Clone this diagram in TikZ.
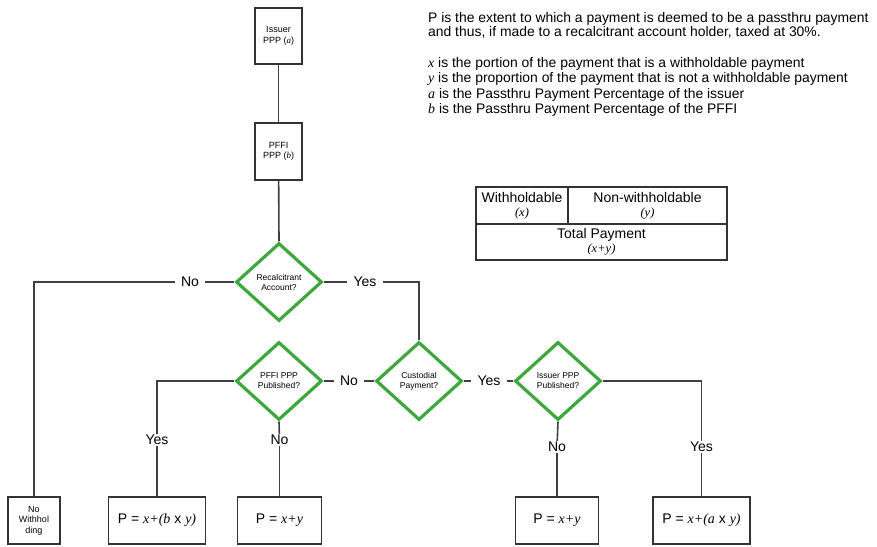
\documentclass[tikz,border=0pt]{standalone}
\usepackage{fontspec}
\setmainfont{Liberation Sans}
\newfontfamily\tms{Liberation Serif}
\usetikzlibrary{shapes.geometric}
\newcommand{\vi}[1]{{\tms\itshape #1}}
\definecolor{dgreen}{RGB}{62,168,62}
\begin{document}
\begin{tikzpicture}[x=1pt,y=-1pt,
  box/.style={draw=black!80, line width=1.5pt, fill=white, align=center, inner sep=1pt},
  dec/.style={diamond, draw=dgreen, line width=3.2pt, fill=white, minimum width=86pt,
    minimum height=78pt, inner sep=0pt, align=center, font=\fontsize{8.5}{10}\selectfont},
  lbl/.style={fill=white, inner xsep=6pt, inner ysep=1pt, font=\fontsize{14}{16}\selectfont},
  conn/.style={draw=black!75, line width=1.6pt},
  cell/.style={draw=black!80, line width=1.3pt, align=center, inner sep=0pt, font=\fontsize{14}{15}\selectfont},
  small/.style={font=\fontsize{9}{10.5}\selectfont},
  big/.style={font=\fontsize{14}{16}\selectfont}]
\useasboundingbox (0,0) rectangle (877,546);

% legend
\node[anchor=north west, align=left, inner sep=0pt, font=\fontsize{13.9}{14.5}\selectfont] (leg1) at (428,12)
  {P is the extent to which a payment is deemed to be a passthru payment\\
   and thus, if made to a recalcitrant account holder, taxed at 30\%.};
\node[anchor=north west, align=left, inner sep=0pt, font=\fontsize{13.9}{15.5}\selectfont] (leg2) at (428,57)
  {\vi{x} is the portion of the payment that is a withholdable payment\\
   \vi{y} is the proportion of the payment that is not a withholdable payment\\
   \vi{a} is the Passthru Payment Percentage of the issuer\\
   \vi{b} is the Passthru Payment Percentage of the PFFI};

% table
\node[box, minimum width=251pt, minimum height=73pt] (tbl) at (601.5,223.5) {};
\node[cell, minimum width=92pt, minimum height=37pt] (wh) at (522,205.5) {Withholdable\\[-1pt]{\fontsize{12.5}{13}\selectfont\vi{(x)}}};
\node[cell, minimum width=159pt, minimum height=37pt] (nwh) at (647.5,205.5) {Non-withholdable\\[-1pt]{\fontsize{12.5}{13}\selectfont\vi{(y)}}};
\node[cell, minimum width=251pt, minimum height=36pt] (tot) at (601.5,242) {Total Payment\\[-1pt]{\fontsize{12.5}{13}\selectfont\vi{(x+y)}}};

% top boxes
\node[box, small, minimum width=47pt, minimum height=56pt] (issuer) at (278.5,36) {Issuer\\PPP (\vi{a})};
\node[box, small, minimum width=47pt, minimum height=57pt] (pffi) at (278.5,151.5) {PFFI\\PPP (\vi{b})};

% decisions
\node[dec] (rec) at (279,282) {Recalcitrant\\Account?};
\node[dec] (pffipub) at (279,381) {PFFI PPP\\Published?};
\node[dec] (cust) at (419,381) {Custodial\\Payment?};
\node[dec] (isspub) at (558,381) {Issuer PPP\\Published?};

% results
\node[box, small, minimum width=52pt, minimum height=47pt] (nowh) at (34,520.5) {No\\Withhol\\ding};
\node[box, big, minimum width=97pt, minimum height=47pt] (pb) at (157,520.5) {P = \vi{x+(b} x \vi{y)}};
\node[box, big, minimum width=84pt, minimum height=47pt] (pxy1) at (279.5,520.5) {P = \vi{x+y}};
\node[box, big, minimum width=83pt, minimum height=47pt] (pxy2) at (557,520.5) {P = \vi{x+y}};
\node[box, big, minimum width=97pt, minimum height=47pt] (pa) at (701.5,520.5) {P = \vi{x+(a} x \vi{y)}};

% labels
\node[lbl] (noR) at (190,282) {No};
\node[lbl] (yesR) at (365,282) {Yes};
\node[lbl] (noC) at (349,381) {No};
\node[lbl] (yesC) at (489,381) {Yes};
\node[lbl] (yesP) at (157,440) {Yes};
\node[lbl] (noP) at (279.5,440) {No};
\node[lbl] (noI) at (557,447) {No};
\node[lbl] (yesI) at (701.5,447) {Yes};

% connectors
\path[conn] (issuer) -- (pffi);
\path[conn] (pffi) -- (rec.north);
\path[conn] (rec.west) -- (noR);
\path[conn] (noR) -| (nowh);
\path[conn] (rec.east) -- (yesR);
\path[conn] (yesR) -| (cust.north);
\path[conn] (cust.west) -- (noC);
\path[conn] (noC) -- (pffipub.east);
\path[conn] (cust.east) -- (yesC);
\path[conn] (yesC) -- (isspub.west);
\path[conn] (pffipub.west) -| (yesP);
\path[conn] (yesP) -- (pb);
\path[conn] (pffipub.south) -- (noP);
\path[conn] (noP) -- (pxy1);
\path[conn] (isspub.south) -- (noI);
\path[conn] (noI) -- (pxy2);
\path[conn] (isspub.east) -| (yesI);
\path[conn] (yesI) -- (pa);
\end{tikzpicture}
\end{document}
